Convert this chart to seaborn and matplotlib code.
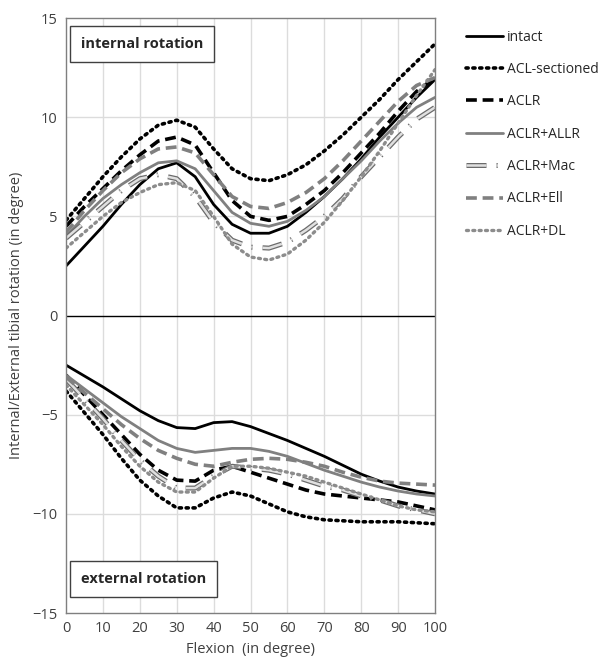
import numpy as np
import pandas as pd
import seaborn as sns
import matplotlib.pyplot as plt
import matplotlib.patheffects as pe

# --- data (5 degree steps) ---
flexion = list(range(0, 101, 5))

intact_int = [2.5, 3.5, 4.5, 5.6, 6.6, 7.4, 7.7, 7.0, 5.6, 4.6, 4.15, 4.15, 4.5, 5.2, 6.0, 6.9, 7.9, 9.0, 10.0, 11.0, 11.9]
acl_int    = [4.8, 5.9, 7.0, 8.0, 8.9, 9.6, 9.85, 9.5, 8.4, 7.4, 6.9, 6.8, 7.1, 7.6, 8.3, 9.1, 10.0, 10.9, 11.9, 12.8, 13.7]
aclr_int   = [4.5, 5.5, 6.4, 7.3, 8.1, 8.8, 9.0, 8.6, 7.2, 5.8, 5.0, 4.8, 5.0, 5.6, 6.3, 7.2, 8.2, 9.2, 10.3, 11.3, 12.0]
allr_int   = [4.0, 5.0, 5.9, 6.6, 7.2, 7.7, 7.8, 7.4, 6.3, 5.2, 4.65, 4.5, 4.75, 5.3, 6.0, 6.9, 7.8, 8.8, 9.7, 10.5, 11.0]
mac_int    = [3.9, 4.7, 5.5, 6.3, 6.9, 7.1, 6.9, 6.0, 4.7, 3.8, 3.45, 3.4, 3.7, 4.3, 5.0, 5.9, 7.0, 8.0, 9.0, 9.9, 10.5]
ell_int    = [4.2, 5.3, 6.3, 7.2, 7.9, 8.4, 8.5, 8.2, 7.1, 6.0, 5.5, 5.4, 5.7, 6.2, 6.9, 7.8, 8.8, 9.8, 10.8, 11.6, 12.0]
dl_int     = [3.4, 4.2, 5.0, 5.7, 6.2, 6.6, 6.7, 6.3, 5.0, 3.6, 2.95, 2.8, 3.1, 3.8, 4.7, 5.8, 7.0, 8.3, 9.7, 11.1, 12.4]

intact_ext = [-2.5, -3.05, -3.6, -4.2, -4.8, -5.3, -5.65, -5.7, -5.4, -5.35, -5.6, -5.95, -6.3, -6.7, -7.1, -7.55, -8.0, -8.35, -8.65, -8.85, -9.0]
acl_ext    = [-3.8, -4.9, -6.0, -7.2, -8.3, -9.1, -9.7, -9.7, -9.2, -8.9, -9.1, -9.5, -9.9, -10.15, -10.3, -10.35, -10.4, -10.4, -10.4, -10.45, -10.5]
aclr_ext   = [-3.0, -4.0, -5.0, -6.0, -7.0, -7.8, -8.3, -8.35, -7.8, -7.6, -7.9, -8.2, -8.5, -8.8, -9.0, -9.1, -9.2, -9.3, -9.4, -9.6, -9.8]
allr_ext   = [-3.0, -3.7, -4.4, -5.1, -5.7, -6.3, -6.7, -6.9, -6.8, -6.7, -6.7, -6.85, -7.1, -7.45, -7.8, -8.1, -8.4, -8.65, -8.85, -9.0, -9.1]
mac_ext    = [-3.2, -4.2, -5.2, -6.3, -7.3, -8.1, -8.7, -8.7, -8.1, -7.6, -7.7, -7.8, -8.0, -8.3, -8.6, -8.8, -9.1, -9.3, -9.6, -9.8, -10.0]
ell_ext    = [-3.1, -3.9, -4.7, -5.5, -6.2, -6.8, -7.2, -7.5, -7.6, -7.4, -7.25, -7.2, -7.25, -7.4, -7.6, -7.9, -8.15, -8.35, -8.45, -8.5, -8.55]
dl_ext     = [-3.5, -4.5, -5.5, -6.6, -7.6, -8.4, -8.9, -8.9, -8.2, -7.6, -7.6, -7.7, -7.9, -8.1, -8.4, -8.7, -9.0, -9.3, -9.6, -9.8, -9.9]

labels = ["intact", "ACL-sectioned", "ACLR", "ACLR+ALLR", "ACLR+Mac", "ACLR+Ell", "ACLR+DL"]
internal = [intact_int, acl_int, aclr_int, allr_int, mac_int, ell_int, dl_int]
external = [intact_ext, acl_ext, aclr_ext, allr_ext, mac_ext, ell_ext, dl_ext]

# --- styles ---
mac_fx = [pe.Stroke(linewidth=3.6, foreground="#6b6b6b"), pe.Normal()]
styles = [
    dict(color="black", lw=2.0, ls="-"),
    dict(color="black", lw=2.6, ls=(0, (0.6, 1.3)), dash_capstyle="round"),
    dict(color="black", lw=2.6, ls=(0, (3.0, 1.6))),
    dict(color="#808080", lw=2.0, ls="-"),
    dict(color="#e0e0e0", lw=1.8, ls=(0, (8, 4, 0.5, 4)), path_effects=mac_fx),
    dict(color="#808080", lw=2.6, ls=(0, (3.0, 1.6))),
    dict(color="#8c8c8c", lw=2.4, ls=(0, (0.6, 1.3)), dash_capstyle="round"),
]

sns.set_theme(style="white")
plt.rcParams["font.family"] = ["Open Sans", "DejaVu Sans"]

fig = plt.figure(figsize=(6.13, 6.64), dpi=100)
ax = fig.add_axes([0.1077, 0.0768, 0.602, 0.896])

for lab, yi, ye, st in zip(labels, internal, external, styles):
    sns.lineplot(x=flexion, y=yi, ax=ax, label=lab, **st)
    sns.lineplot(x=flexion, y=ye, ax=ax, label="_nolegend_", **st)

ax.set_xlim(0, 100)
ax.set_ylim(-15, 15)
ax.set_xticks(range(0, 101, 10))
ax.set_yticks(range(-15, 16, 5))
for x in range(10, 100, 10):
    ax.axvline(x, color="#dcdcdc", lw=1, zorder=0)
for y in [-10, -5, 5, 10]:
    ax.axhline(y, color="#dcdcdc", lw=1, zorder=0)
ax.axhline(0, color="black", lw=1.0, zorder=1)

for s in ax.spines.values():
    s.set_color("#7f7f7f")
    s.set_linewidth(1.0)
ax.tick_params(axis="both", labelsize=10.5, colors="#404040", length=0, pad=6)
ax.set_xlabel("Flexion  (in degree)", fontsize=10.5, color="#404040", labelpad=4)
ax.set_ylabel("Internal/External tibial rotation (in degree)", fontsize=10.5,
              color="#404040", labelpad=6)

box = dict(boxstyle="square,pad=0.75", fc="white", ec="#404040", lw=1.0)
ax.text(4, 13.7, "internal rotation", fontsize=10.5, fontweight="bold",
        ha="left", va="center", bbox=box)
ax.text(4, -13.3, "external rotation", fontsize=10.5, fontweight="bold",
        ha="left", va="center", bbox=box)

ax.legend(loc="upper left", bbox_to_anchor=(1.07, 0.99), frameon=False,
          fontsize=10, handlelength=2.6, handletextpad=0.3, labelspacing=1.25,
          borderaxespad=0)

fig.savefig("out.png", dpi=100)
